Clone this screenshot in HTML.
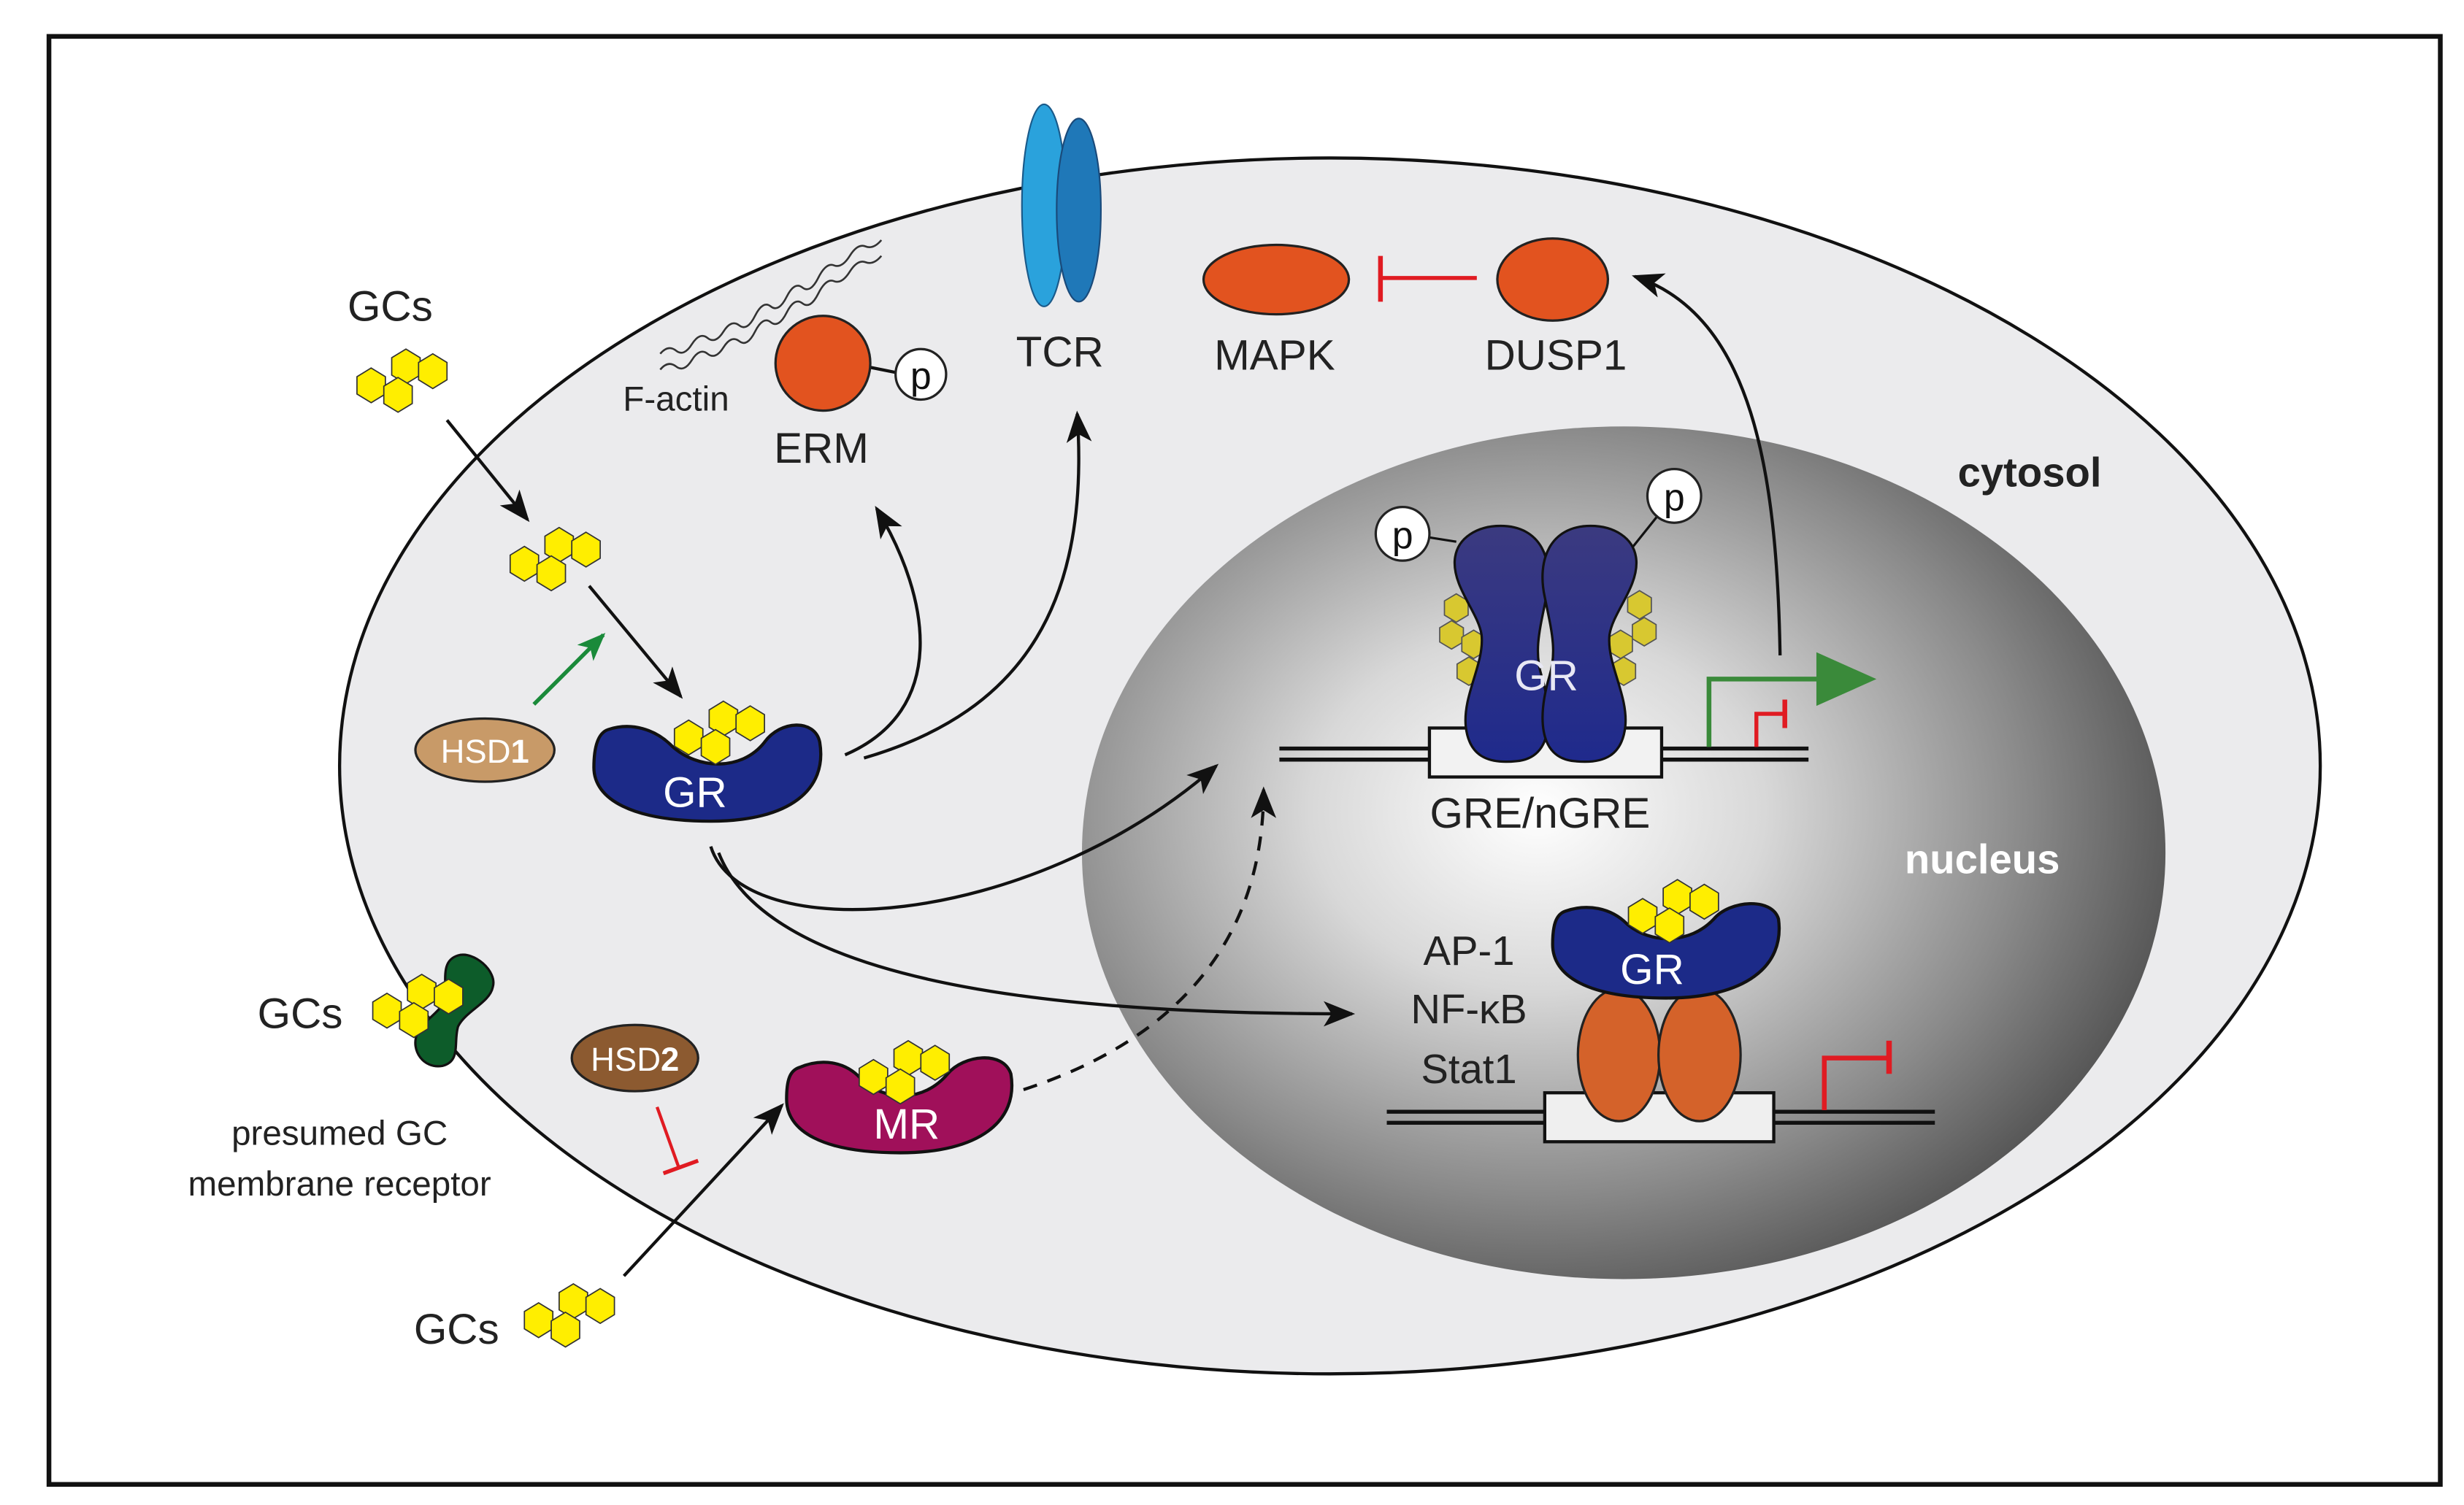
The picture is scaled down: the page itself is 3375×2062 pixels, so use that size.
<!DOCTYPE html>
<html><head><meta charset="utf-8"><style>
html,body{margin:0;padding:0;background:#fff}
svg{display:block}
text{font-family:"Liberation Sans",sans-serif}
</style></head><body>
<svg width="3375" height="2062" viewBox="0 0 1560 953" xmlns="http://www.w3.org/2000/svg">
<defs>
<radialGradient id="nuc" cx="0.42" cy="0.45" r="0.6">
<stop offset="0" stop-color="#ffffff"/>
<stop offset="0.35" stop-color="#d8d8d8"/>
<stop offset="0.75" stop-color="#8a8a8a"/>
<stop offset="1" stop-color="#555"/>
</radialGradient>
<linearGradient id="grd" x1="0" y1="0" x2="0" y2="1">
<stop offset="0" stop-color="#3b3a80"/><stop offset="1" stop-color="#1f2a8c"/>
</linearGradient>
<marker id="ah" viewBox="0 0 20 20" refX="18" refY="10" markerWidth="20" markerHeight="20" markerUnits="userSpaceOnUse" orient="auto">
<path d="M0,2 L20,10 L0,18 L5,10 Z" fill="#111"/>
</marker>
<marker id="ahg" viewBox="0 0 20 20" refX="18" refY="10" markerWidth="18" markerHeight="18" markerUnits="userSpaceOnUse" orient="auto">
<path d="M0,2 L20,10 L0,18 L5,10 Z" fill="#1a8a3a"/>
</marker>
<g id="hx"><polygon points="0,-11 9,-5.5 9,5.5 0,11 -9,5.5 -9,-5.5" stroke="#333" stroke-width="0.8"/></g>
<g id="hs"><polygon points="0,-9 7.5,-4.5 7.5,4.5 0,9 -7.5,4.5 -7.5,-4.5" stroke="#555" stroke-width="0.8"/></g>
<g id="gc" fill="#ffee00">
<use href="#hx" x="0" y="0"/><use href="#hx" x="22" y="-12"/><use href="#hx" x="17" y="6"/><use href="#hx" x="39" y="-9"/>
</g>
</defs>
<rect x="0" y="0" width="1560" height="953" fill="#fff"/>
<rect x="31" y="23" width="1514" height="917" fill="#fff" stroke="#111" stroke-width="3"/>
<ellipse cx="842" cy="485" rx="627" ry="385" fill="#ebebed" stroke="#111" stroke-width="2"/>
<ellipse cx="1028" cy="540" rx="343" ry="270" fill="url(#nuc)"/>
<text x="1285" y="308" font-size="26" font-weight="bold" text-anchor="middle" fill="#222">cytosol</text>
<text x="1255" y="553" font-size="26" font-weight="bold" text-anchor="middle" fill="#fff">nucleus</text>

<!-- F-actin -->
<path d="M418,224 q5,-6 10,-2 t10,-4 t10,-4 t10,-4 t10,-4 t10,-6 t10,-6 t10,-6 t10,-6 t10,-6 t10,-8 t10,-6 t10,-6 t10,-4" fill="none" stroke="#333" stroke-width="1.2"/>
<path d="M418,234 q5,-6 10,-2 t10,-4 t10,-4 t10,-4 t10,-4 t10,-6 t10,-6 t10,-6 t10,-6 t10,-6 t10,-8 t10,-6 t10,-6 t10,-4" fill="none" stroke="#333" stroke-width="1.2"/>
<text x="428" y="260" font-size="22" text-anchor="middle" fill="#222">F-actin</text>
<line x1="548" y1="232" x2="568" y2="236" stroke="#111" stroke-width="2"/>
<circle cx="521" cy="230" r="30" fill="#e2531f" stroke="#222" stroke-width="1.5"/>
<circle cx="583" cy="237" r="16" fill="#fff" stroke="#222" stroke-width="1.5"/>
<text x="583" y="246" font-size="24" text-anchor="middle" fill="#111">p</text>
<text x="520" y="293" font-size="27" text-anchor="middle" fill="#222">ERM</text>

<!-- TCR -->
<ellipse cx="661" cy="130" rx="14" ry="64" fill="#2aa2dc" stroke="#1a5a8a" stroke-width="1"/>
<ellipse cx="683" cy="133" rx="14" ry="58" fill="#1f78b8" stroke="#1a4a7a" stroke-width="1"/>
<text x="671" y="232" font-size="27" text-anchor="middle" fill="#222">TCR</text>

<!-- MAPK / DUSP1 -->
<ellipse cx="808" cy="177" rx="46" ry="22" fill="#e2531f" stroke="#222" stroke-width="1.5"/>
<ellipse cx="983" cy="177" rx="35" ry="26" fill="#e2531f" stroke="#222" stroke-width="1.5"/>
<line x1="935" y1="176" x2="874" y2="176" stroke="#e01b22" stroke-width="2.5"/>
<line x1="874" y1="162" x2="874" y2="191" stroke="#e01b22" stroke-width="3"/>
<text x="807" y="234" font-size="27" text-anchor="middle" fill="#222">MAPK</text>
<text x="985" y="234" font-size="27" text-anchor="middle" fill="#222">DUSP1</text>
<path d="M1127,415 C1125,300 1110,200 1035,175" fill="none" stroke="#111" stroke-width="2" marker-end="url(#ah)"/>

<!-- GCs top -->
<text x="247" y="203" font-size="27" text-anchor="middle" fill="#222">GCs</text>
<use href="#gc" x="235" y="244"/>
<line x1="283" y1="266" x2="334" y2="329" stroke="#111" stroke-width="2" marker-end="url(#ah)"/>
<use href="#gc" x="332" y="357"/>
<line x1="373" y1="371" x2="431" y2="441" stroke="#111" stroke-width="2" marker-end="url(#ah)"/>
<line x1="338" y1="446" x2="382" y2="402" stroke="#1a8a3a" stroke-width="2.5" marker-end="url(#ahg)"/>

<ellipse cx="307" cy="475" rx="44" ry="20" fill="#c89a68" stroke="#222" stroke-width="1.5"/>
<text x="307" y="483" font-size="21" text-anchor="middle" fill="#fff">HSD<tspan font-weight="bold">1</tspan></text>

<!-- GR cytosol -->
<path d="M385,462 C400,457 415,462 425,472 C442,488 470,488 484,470 C494,456 516,455 519,470 C524,500 500,520 450,520 C400,520 376,506 376,486 C376,472 379,464 385,462Z" fill="#1c2a88" stroke="#111" stroke-width="2"/>
<use href="#gc" x="436" y="467"/>
<text x="440" y="511" font-size="27" text-anchor="middle" fill="#fff">GR</text>

<!-- curves from GR -->
<path d="M535,478 C600,450 590,380 555,322" fill="none" stroke="#111" stroke-width="2" marker-end="url(#ah)"/>
<path d="M547,480 C650,450 690,380 682,262" fill="none" stroke="#111" stroke-width="2" marker-end="url(#ah)"/>
<path d="M450,536 C470,600 650,590 770,485" fill="none" stroke="#111" stroke-width="2" marker-end="url(#ah)"/>
<path d="M455,540 C490,630 700,642 856,642" fill="none" stroke="#111" stroke-width="2" marker-end="url(#ah)"/>

<!-- membrane receptor -->
<path d="M290,605 C300,602 315,615 312,625 C310,635 295,640 290,650 C287,660 292,672 280,675 C268,677 260,665 264,655 C268,645 282,640 282,630 C282,618 280,608 290,605Z" fill="#0d5c2a" stroke="#111" stroke-width="1.5"/>
<use href="#gc" x="245" y="640"/>
<text x="190" y="651" font-size="27" text-anchor="middle" fill="#222">GCs</text>
<text x="215" y="725" font-size="22" text-anchor="middle" fill="#222">presumed GC</text>
<text x="215" y="757" font-size="22" text-anchor="middle" fill="#222">membrane receptor</text>

<!-- HSD2 -->
<ellipse cx="402" cy="670" rx="40" ry="21" fill="#8c5a30" stroke="#222" stroke-width="1.5"/>
<text x="402" y="678" font-size="21" text-anchor="middle" fill="#fff">HSD<tspan font-weight="bold">2</tspan></text>
<line x1="416" y1="701" x2="430" y2="740" stroke="#e01b22" stroke-width="2"/>
<line x1="420" y1="743" x2="442" y2="735" stroke="#e01b22" stroke-width="2.5"/>

<!-- bottom GCs -->
<text x="289" y="851" font-size="27" text-anchor="middle" fill="#222">GCs</text>
<use href="#gc" x="341" y="836"/>
<line x1="395" y1="808" x2="495" y2="700" stroke="#111" stroke-width="2" marker-end="url(#ah)"/>

<!-- MR -->
<path d="M506,676 C520,670 535,672 545,683 C560,698 585,698 600,680 C610,668 635,665 640,680 C645,710 620,730 570,730 C520,730 498,716 498,696 C498,684 500,678 506,676Z" fill="#a0105a" stroke="#111" stroke-width="2"/>
<use href="#gc" x="553" y="682"/>
<text x="574" y="721" font-size="27" text-anchor="middle" fill="#fff">MR</text>
<path d="M648,690 C740,660 800,600 800,500" fill="none" stroke="#111" stroke-width="2" stroke-dasharray="9,7" marker-end="url(#ah)"/>

<!-- upper DNA -->
<line x1="810" y1="474" x2="1145" y2="474" stroke="#111" stroke-width="2.5"/>
<line x1="810" y1="481" x2="1145" y2="481" stroke="#111" stroke-width="2.5"/>
<rect x="905" y="461" width="147" height="31" fill="#f2f2f2" stroke="#111" stroke-width="2"/>
<text x="975" y="524" font-size="27" text-anchor="middle" fill="#222">GRE/nGRE</text>
<!-- GR dimer side hexes -->
<g fill="#d8c830">
<use href="#hs" x="922" y="385"/><use href="#hs" x="919" y="402"/><use href="#hs" x="933" y="408"/><use href="#hs" x="930" y="425"/>
<use href="#hs" x="1038" y="383"/><use href="#hs" x="1041" y="400"/><use href="#hs" x="1026" y="408"/><use href="#hs" x="1028" y="425"/>
</g>
<!-- GR dimer -->
<path d="M950,333 C976,333 984,355 979,378 C975,398 971,412 976,428 C983,452 984,480 960,482 C941,484 930,478 928,460 C926,440 940,420 938,402 C936,388 920,372 921,355 C922,340 936,333 950,333Z" fill="url(#grd)" stroke="#111" stroke-width="1.5"/>
<path d="M1007,333 C981,333 973,355 978,378 C982,398 986,412 981,428 C974,452 973,480 997,482 C1016,484 1027,478 1029,460 C1031,440 1017,420 1019,402 C1021,388 1037,372 1036,355 C1035,340 1021,333 1007,333Z" fill="url(#grd)" stroke="#111" stroke-width="1.5"/>
<text x="979" y="437" font-size="27" text-anchor="middle" fill="#e8e8f4">GR</text>
<line x1="903" y1="340" x2="922" y2="343" stroke="#111" stroke-width="1.5"/>
<line x1="1050" y1="326" x2="1034" y2="346" stroke="#111" stroke-width="1.5"/>
<circle cx="888" cy="338" r="17" fill="#fff" stroke="#222" stroke-width="1.5"/>
<text x="888" y="347" font-size="24" text-anchor="middle" fill="#111">p</text>
<circle cx="1060" cy="314" r="17" fill="#fff" stroke="#222" stroke-width="1.5"/>
<text x="1060" y="323" font-size="24" text-anchor="middle" fill="#111">p</text>
<!-- promoters -->
<polyline points="1082,473 1082,430 1155,430" fill="none" stroke="#3a8a3a" stroke-width="3"/>
<polygon points="1150,413 1188,430 1150,447" fill="#3a8a3a"/>
<polyline points="1112,473 1112,452 1130,452" fill="none" stroke="#e01b22" stroke-width="2.5"/>
<line x1="1130" y1="443" x2="1130" y2="461" stroke="#e01b22" stroke-width="3"/>

<!-- lower DNA -->
<line x1="878" y1="704" x2="1225" y2="704" stroke="#111" stroke-width="2.5"/>
<line x1="878" y1="711" x2="1225" y2="711" stroke="#111" stroke-width="2.5"/>
<rect x="978" y="692" width="145" height="31" fill="#efefef" stroke="#111" stroke-width="2"/>
<ellipse cx="1025" cy="668" rx="26" ry="42" fill="#d4622a" stroke="#222" stroke-width="1.5"/>
<ellipse cx="1076" cy="668" rx="26" ry="42" fill="#d4622a" stroke="#222" stroke-width="1.5"/>
<path d="M991,577 C1005,572 1020,575 1030,585 C1045,598 1070,598 1085,582 C1095,570 1122,568 1126,582 C1130,612 1105,632 1055,632 C1005,632 983,618 983,598 C983,586 985,579 991,577Z" fill="#1c2a88" stroke="#111" stroke-width="2"/>
<use href="#gc" x="1040" y="580"/>
<text x="1046" y="623" font-size="27" text-anchor="middle" fill="#fff">GR</text>
<polyline points="1155,703 1155,670 1195,670" fill="none" stroke="#e01b22" stroke-width="3"/>
<line x1="1196" y1="659" x2="1196" y2="680" stroke="#e01b22" stroke-width="3.5"/>
<text x="930" y="611" font-size="26" text-anchor="middle" fill="#222">AP-1</text>
<text x="930" y="648" font-size="26" text-anchor="middle" fill="#222">NF-κB</text>
<text x="930" y="686" font-size="26" text-anchor="middle" fill="#222">Stat1</text>
</svg>
</body></html>
